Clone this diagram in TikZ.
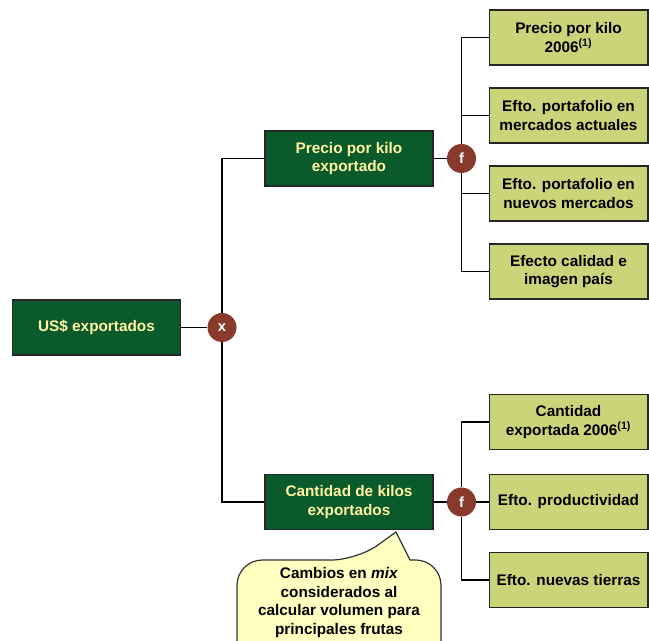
\documentclass[tikz,border=0pt]{standalone}
\usepackage{fontspec}
\setmainfont{Liberation Sans}
\usetikzlibrary{positioning}

\definecolor{darkgreen}{HTML}{0B5A2B}
\definecolor{lightgold}{HTML}{FFF4A3}
\definecolor{olive}{HTML}{CCD47A}
\definecolor{brick}{HTML}{8A3A2C}
\definecolor{notecol}{HTML}{FFFFC0}

\begin{document}
\begin{tikzpicture}[x=0.75pt,y=-0.75pt,
		every node/.style={font=\bfseries\fontsize{11.5}{14}\selectfont, align=center},
		mainbox/.style={rectangle,draw=black!85,line width=1pt,fill=darkgreen,text=lightgold,minimum width=126pt,minimum height=41.25pt,inner sep=1pt},
		leafbox/.style={rectangle,draw=black!85,line width=1pt,fill=olive,text=black,minimum width=119pt,minimum height=41.25pt,inner sep=1pt},
		opnode/.style={circle,fill=brick,text=white,minimum size=21.75pt,inner sep=0pt,font=\bfseries\fontsize{11}{12}\selectfont},
		conn/.style={line width=0.9pt,color=black}]
	\useasboundingbox (0,0) rectangle (649,641);
	
	% left side
	\node[mainbox] (US) at (96.5,327.5) {US\$ exportados};
	\node[opnode] (X) at (222,327.5) {x};
	\node[mainbox] (PK) at (349,158.5) {Precio por kilo\\exportado};
	\node[mainbox] (CK) at (349,502) {Cantidad de kilos\\exportados};
	\node[opnode] (F1) at (461.5,158.5) {f};
	\node[opnode] (F2) at (461.5,502) {f};
	
	% right side
	\begin{scope}[every node/.append style={leafbox}]
		\node (P1) at (568.5,37.5) {Precio por kilo\\2006\textsuperscript{(1)}};
		\node (P2) at (568.5,115.5) {Efto. portafolio en\\mercados actuales};
		\node (P3) at (568.5,193.5) {Efto. portafolio en\\nuevos mercados};
		\node (P4) at (568.5,271.5) {Efecto calidad e\\imagen país};
		\node (C1) at (568.5,422) {Cantidad\\exportada 2006\textsuperscript{(1)}};
		\node (C2) at (568.5,502) {Efto. productividad};
		\node (C3) at (568.5,580) {Efto. nuevas tierras};
	\end{scope}
	
	\draw [conn] (US) -- (X);
	\draw [conn] (X.north) |- (PK.west);
	\draw [conn] (X.south) |- (CK.west);
	\draw [conn] (PK) -- (F1);
	\draw [conn] (CK) -- (F2);
	
	\draw [conn] (F1.north) |- (P1.west);
	\draw [conn] (F1.north) |- (P2.west);
	\draw [conn] (F1.south) |- (P3.west);
	\draw [conn] (F1.south) |- (P4.west);
	
	\draw [conn] (F2.north) |- (C1.west);
	\draw [conn] (F2) -- (C2);
	\draw [conn] (F2.south) |- (C3.west);
	
	% callout
	\coordinate (tip) at (396,532);
	\draw [line width=0.9pt,draw=black!80,fill=notecol] (237,660) [rounded corners=19pt] -- (237,560) -- (357,560) [sharp corners] -- (tip) -- (410,560) [rounded corners=19pt] -- (441,560) -- (441,660);
	\node (note) at (339,602.5) [font=\bfseries\fontsize{11.5}{13.8}\selectfont] {Cambios en \textit{mix}\\considerados al\\calcular volumen para\\principales frutas};
	
\end{tikzpicture}
\end{document}
